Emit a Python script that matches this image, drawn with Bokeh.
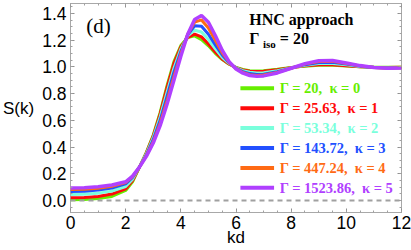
from bokeh.plotting import figure
from bokeh.models import Range1d, FixedTicker, PrintfTickFormatter, LinearAxis, Span, Label
from bokeh.embed import file_html
from bokeh.resources import INLINE

kd = [0, 0.5, 1, 1.5, 2, 2.25, 2.5, 2.75, 3, 3.25, 3.5, 3.75, 4, 4.25, 4.5, 4.75,
      5, 5.25, 5.5, 5.75, 6, 6.25, 6.5, 6.75, 7, 7.5, 8, 8.5, 9, 9.5, 10, 10.5, 11, 11.5, 12]

s_k0 = [0.005, 0.007, 0.014, 0.030, 0.075, 0.140, 0.250, 0.360, 0.490, 0.660, 0.860, 1.040,
        1.160, 1.220, 1.233, 1.205, 1.158, 1.102, 1.055, 1.020, 0.996, 0.981, 0.972, 0.970,
        0.972, 0.982, 0.995, 1.006, 1.012, 1.012, 1.007, 1.001, 0.998, 0.997, 0.998]
s_k1 = [0.020, 0.022, 0.030, 0.048, 0.088, 0.150, 0.250, 0.357, 0.482, 0.648, 0.845, 1.025,
        1.150, 1.222, 1.246, 1.225, 1.172, 1.112, 1.060, 1.022, 0.995, 0.978, 0.968, 0.965,
        0.967, 0.979, 0.994, 1.008, 1.016, 1.016, 1.009, 1.002, 0.997, 0.996, 0.997]
s_k2 = [0.045, 0.047, 0.055, 0.070, 0.105, 0.160, 0.252, 0.350, 0.470, 0.625, 0.810, 0.990,
        1.135, 1.232, 1.275, 1.262, 1.205, 1.135, 1.072, 1.027, 0.993, 0.972, 0.960, 0.955,
        0.957, 0.971, 0.993, 1.012, 1.025, 1.026, 1.016, 1.004, 0.997, 0.994, 0.995]
s_k3 = [0.068, 0.070, 0.078, 0.093, 0.125, 0.172, 0.251, 0.340, 0.455, 0.600, 0.780, 0.960,
        1.115, 1.240, 1.308, 1.305, 1.245, 1.165, 1.090, 1.032, 0.990, 0.965, 0.950, 0.944,
        0.946, 0.964, 0.991, 1.017, 1.033, 1.035, 1.021, 1.006, 0.996, 0.992, 0.994]
s_k4 = [0.082, 0.084, 0.092, 0.106, 0.134, 0.178, 0.250, 0.335, 0.440, 0.578, 0.748, 0.928,
        1.098, 1.245, 1.335, 1.352, 1.292, 1.200, 1.106, 1.036, 0.987, 0.958, 0.942, 0.936,
        0.939, 0.959, 0.990, 1.021, 1.040, 1.042, 1.026, 1.008, 0.995, 0.991, 0.993]
s_k5 = [0.093, 0.095, 0.103, 0.116, 0.140, 0.183, 0.250, 0.330, 0.430, 0.560, 0.720, 0.900,
        1.080, 1.245, 1.355, 1.385, 1.335, 1.235, 1.125, 1.040, 0.985, 0.953, 0.936, 0.930,
        0.933, 0.955, 0.990, 1.025, 1.046, 1.048, 1.030, 1.010, 0.995, 0.990, 0.992]

series = [s_k0, s_k1, s_k2, s_k3, s_k4, s_k5]
gammas = ["20", "25.63", "53.34", "143.72", "447.24", "1523.86"]
kappas = ["0", "1", "2", "3", "4", "5"]
colors = ["#66ee00", "#ff0a0a", "#7affdc", "#2250ff", "#ff6a14", "#b040ff"]
widths = [3, 3, 3, 3, 3, 3.5]

x_ticks = [0, 2, 4, 6, 8, 10, 12]
y_ticks = [0.0, 0.2, 0.4, 0.6, 0.8, 1.0, 1.2, 1.4]
x_minor = [i * 0.5 for i in range(25)]
y_minor = [-0.05] + [i * 0.05 for i in range(30)]

p = figure(width=411, height=250, x_range=Range1d(0, 12), y_range=Range1d(-0.09, 1.475),
           output_backend="svg", toolbar_location=None,
           min_border_left=66, min_border_right=10, min_border_top=3, min_border_bottom=38,
           x_axis_location=None, y_axis_location=None)
p.outline_line_color = "#a8a8a8"
p.outline_line_width = 1
p.xgrid.visible = False
p.ygrid.visible = False

xt = FixedTicker(ticks=x_ticks, minor_ticks=x_minor)
yt = FixedTicker(ticks=y_ticks, minor_ticks=y_minor)

def style(ax, labels):
    ax.axis_line_color = None
    ax.major_tick_in = 4
    ax.major_tick_out = 0
    ax.minor_tick_in = 2
    ax.minor_tick_out = 0
    ax.major_tick_line_color = "#909090"
    ax.minor_tick_line_color = "#a0a0a0"
    if labels:
        ax.major_label_text_font = "Liberation Sans"
        ax.major_label_text_font_size = "17.5px"
        ax.major_label_text_color = "black"
        ax.axis_label_text_font = "Liberation Sans"
        ax.axis_label_text_font_size = "17px"
        ax.axis_label_text_font_style = "normal"
        ax.axis_label_text_color = "black"
    else:
        ax.major_label_text_font_size = "1px"
        ax.major_label_text_color = None
        ax.major_label_standoff = 0

xb = LinearAxis(ticker=xt, formatter=PrintfTickFormatter(format="%d"), axis_label="kd")
style(xb, True)
xb.major_label_standoff = 3
try:
    xb.axis_label_standoff = -4
except Exception:
    xb.axis_label_standoff = 0
p.add_layout(xb, "below")

yl = LinearAxis(ticker=yt, formatter=PrintfTickFormatter(format="%.1f"), axis_label="S(k)")
style(yl, True)
yl.major_label_standoff = 4
yl.axis_label_standoff = 5
if hasattr(yl, "axis_label_orientation"):
    yl.axis_label_orientation = "horizontal"
p.add_layout(yl, "left")

xa = LinearAxis(ticker=xt)
style(xa, False)
p.add_layout(xa, "above")
yr = LinearAxis(ticker=yt)
style(yr, False)
p.add_layout(yr, "right")

p.add_layout(Span(location=0, dimension="width", line_color="#a0a0a0",
                  line_width=2, line_dash="5 4"))

for s, c, w in zip(series, colors, widths):
    p.line(kd, s, line_color=c, line_width=w)

# legend (custom, coloured text)
for i, (g, k, c) in enumerate(zip(gammas, kappas, colors)):
    yy = 0.84 - 0.149 * i
    p.segment(x0=[6.16], y0=[yy], x1=[7.38], y1=[yy], line_color=c, line_width=4)
    p.add_layout(Label(x=7.59, y=yy, text=f"Γ = {g},\u00a0 κ = {k}", text_color=c,
                       text_font="Liberation Serif", text_font_style="bold",
                       text_font_size="14.5px", text_baseline="middle"))

p.add_layout(Label(x=6.48, y=1.295, text="HNC approach", text_font="Liberation Serif",
                   text_font_style="bold", text_font_size="16px", text_color="black"))
p.add_layout(Label(x=6.48, y=1.153, text="Γ", text_font="Liberation Serif",
                   text_font_style="bold", text_font_size="16px", text_color="black"))
p.add_layout(Label(x=6.98, y=1.13, text="iso", text_font="Liberation Serif",
                   text_font_style="bold", text_font_size="11px", text_color="black"))
p.add_layout(Label(x=7.59, y=1.153, text="= 20", text_font="Liberation Serif",
                   text_font_style="bold", text_font_size="16px", text_color="black"))
p.add_layout(Label(x=0.57, y=1.22, text="(d)", text_font="Liberation Serif",
                   text_font_size="21px", text_color="black"))

open("out.html", "w").write(file_html(p, INLINE))
